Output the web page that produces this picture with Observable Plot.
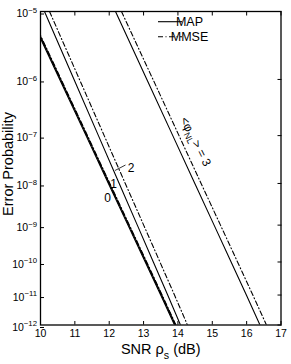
<!DOCTYPE html>
<html><head><meta charset="utf-8">
<script src="https://cdn.jsdelivr.net/npm/d3@7"></script>
<script src="https://cdn.jsdelivr.net/npm/@observablehq/plot@0.6"></script>
<style>body{margin:0;background:#fff}</style>
</head><body><div id="chart"></div>
<script>
// ---- data ----
const errorProb = [1e-5, 1e-6, 1e-7, 1e-8, 1e-9, 1e-10, 1e-11, 1e-12];
const probExponents = [-5, -6, -7, -8, -9, -10, -11, -12];
const snrTicks = [10, 11, 12, 13, 14, 15, 16, 17];
// SNR (dB) where each curve crosses each decade of error probability
const snr0Map  = [9.632, 10.559, 11.325, 11.976, 12.545, 13.048, 13.498, 13.900];
const snr0Mmse = [9.652, 10.579, 11.345, 11.996, 12.565, 13.068, 13.518, 13.920];
const snr1Map  = [9.662, 10.589, 11.355, 12.006, 12.575, 13.078, 13.528, 13.930];
const snr1Mmse = [9.675, 10.602, 11.368, 12.019, 12.588, 13.091, 13.541, 13.943];
const snr2Map  = [10.116, 10.976, 11.686, 12.291, 12.818, 13.284, 13.702, 14.074];
const snr2Mmse = [10.262, 11.134, 11.854, 12.468, 13.003, 13.476, 13.900, 14.278];
const snr3Map  = [12.183, 13.096, 13.850, 14.492, 15.053, 15.548, 15.992, 16.388];
const snr3Mmse = [12.357, 13.274, 14.031, 14.675, 15.238, 15.735, 16.180, 16.577];
const legendLabels = ["MAP", "MMSE"];
const curveLabels = ["0", "1", "2", "<φ_{NL}> = 3"];

const series = [
  {curve: "0", method: "MAP", snr: snr0Map},
  {curve: "0", method: "MMSE", snr: snr0Mmse},
  {curve: "1", method: "MAP", snr: snr1Map},
  {curve: "1", method: "MMSE", snr: snr1Mmse},
  {curve: "2", method: "MAP", snr: snr2Map},
  {curve: "2", method: "MMSE", snr: snr2Mmse},
  {curve: "3", method: "MAP", snr: snr3Map},
  {curve: "3", method: "MMSE", snr: snr3Mmse}
];
const rows = series.flatMap(s => s.snr.map((v, i) => ({key: s.curve + s.method, method: s.method, snr: v, p: errorProb[i]})));

// ---- Q-function probability scale: y = log10(Q^{-1}(p)) ----
function normInv(p) {
  const a = [-3.969683028665376e+01, 2.209460984245205e+02, -2.759285104469687e+02, 1.383577518672690e+02, -3.066479806614716e+01, 2.506628277459239e+00];
  const b = [-5.447609879822406e+01, 1.615858368580409e+02, -1.556989798598866e+02, 6.680131188771972e+01, -1.328068155288572e+01];
  const c = [-7.784894002430293e-03, -3.223964580411365e-01, -2.400758277161838e+00, -2.549732539343734e+00, 4.374664141464968e+00, 2.938163982698783e+00];
  const d = [7.784695709041462e-03, 3.224671290700398e-01, 2.445134137142996e+00, 3.754408661907416e+00];
  const plow = 0.02425, phigh = 1 - plow;
  let q, r;
  if (p < plow) {
    q = Math.sqrt(-2 * Math.log(p));
    return (((((c[0]*q+c[1])*q+c[2])*q+c[3])*q+c[4])*q+c[5]) / ((((d[0]*q+d[1])*q+d[2])*q+d[3])*q+1);
  } else if (p <= phigh) {
    q = p - 0.5; r = q*q;
    return (((((a[0]*r+a[1])*r+a[2])*r+a[3])*r+a[4])*r+a[5])*q / (((((b[0]*r+b[1])*r+b[2])*r+b[3])*r+b[4])*r+1);
  } else {
    q = Math.sqrt(-2 * Math.log(1 - p));
    return -(((((c[0]*q+c[1])*q+c[2])*q+c[3])*q+c[4])*q+c[5]) / ((((d[0]*q+d[1])*q+d[2])*q+d[3])*q+1);
  }
}
const yT = p => Math.log10(-normInv(p));
const yTicks = errorProb.map(yT);
const yFmt = v => {
  const i = yTicks.findIndex(t => Math.abs(t - v) < 1e-9);
  return i < 0 ? "" : `10^{${String(probExponents[i]).replace("-", "\u2212")}}`;
};

const dashDot = "5,2.5,1,2.5";
const mid = {textAnchor: "middle", lineAnchor: "middle"};
const chart = Plot.plot({
  width: 291, height: 364,
  marginLeft: 40, marginRight: 10.5, marginTop: 11, marginBottom: 39.5,
  style: {fontFamily: "'Liberation Sans', Arial, sans-serif", fontSize: "10.5px", color: "black", background: "white"},
  x: {domain: [10, 17]},
  y: {domain: [yT(1e-12), yT(1e-5)]},
  marks: [
    Plot.axisX(snrTicks, {anchor: "bottom", tickSize: -3.5, tickPadding: 8, label: null, tickFormat: d => String(d)}),
    Plot.axisX(snrTicks, {anchor: "top", tickSize: -3.5, label: null, tickFormat: () => ""}),
    Plot.axisY(yTicks, {anchor: "left", tickSize: -4, tickPadding: 7.5, label: null, tickFormat: yFmt, dy: 2.5}),
    Plot.axisY(yTicks, {anchor: "right", tickSize: -4, label: null, tickFormat: () => ""}),
    Plot.line(rows.filter(d => d.method === "MAP"), {x: "snr", y: d => yT(d.p), z: "key", stroke: "black", strokeWidth: 1.1, clip: true}),
    Plot.line(rows.filter(d => d.method === "MMSE"), {x: "snr", y: d => yT(d.p), z: "key", stroke: "black", strokeWidth: 1.1, strokeDasharray: dashDot, clip: true}),
    Plot.frame({stroke: "black", strokeWidth: 1.3}),
    Plot.text([curveLabels[0]], {...mid, text: d => d, frameAnchor: "top-left", dx: 67, dy: 187, fontSize: 12}),
    Plot.text([curveLabels[1]], {...mid, text: d => d, frameAnchor: "top-left", dx: 73, dy: 172.5, fontSize: 12}),
    Plot.text([curveLabels[2]], {...mid, text: d => d, frameAnchor: "top-left", dx: 90.7, dy: 156.7, fontSize: 12}),
    Plot.text([curveLabels[3]], {...mid, text: d => d, frameAnchor: "top-left", dx: 155, dy: 130, fontSize: 12, rotate: 63}),
    Plot.text(["SNR ρ_{s} (dB)"], {...mid, text: d => d, frameAnchor: "bottom", dy: 24.5, fontSize: 14.5}),
    Plot.text(["Error Probability"], {...mid, text: d => d, frameAnchor: "left", dx: -32.5, dy: -4.3, rotate: -90, fontSize: 14.5})
  ]
});

// rich text: ^{..} superscript, _{..} subscript
const NS = "http://www.w3.org/2000/svg";
function richify(el) {
  const s = el.textContent;
  const re = /([_^])\{([^}]*)\}/g;
  if (!/[_^]\{/.test(s)) return;
  const base = parseFloat(getComputedStyle(el).fontSize) || 10;
  el.textContent = "";
  let last = 0, shift = 0, m;
  const add = (txt, dy, size) => {
    const t = document.createElementNS(NS, "tspan");
    t.textContent = txt;
    if (dy) t.setAttribute("dy", dy);
    if (size) t.setAttribute("font-size", size);
    el.appendChild(t);
  };
  while ((m = re.exec(s))) {
    if (m.index > last) { add(s.slice(last, m.index), -shift, null); shift = 0; }
    const d = m[1] === "^" ? -0.42 * base : 0.3 * base;
    add(m[2], d - shift, 0.74 * base);
    shift = d;
    last = re.lastIndex;
  }
  if (last < s.length) add(s.slice(last), -shift, null);
}
document.getElementById("chart").appendChild(chart);
chart.querySelectorAll("text").forEach(richify);

// legend + leader line
const svg = d3.select(chart);
const lg = svg.append("g").attr("font-family", "'Liberation Sans', Arial, sans-serif").attr("font-size", 12.5);
legendLabels.forEach((lab, i) => {
  const y = 21.7 + i * 15;
  lg.append("line").attr("x1", 158).attr("x2", 182).attr("y1", y).attr("y2", y)
    .attr("stroke", "black").attr("stroke-width", 1.1).attr("stroke-dasharray", i ? dashDot : null);
  lg.append("text").attr("x", 189.5).attr("y", y).attr("dy", "0.35em").text(lab);
});
svg.append("line").attr("x1", 115).attr("y1", 170.5).attr("x2", 125.5).attr("y2", 165)
  .attr("stroke", "black").attr("stroke-width", 0.8);
</script>
</body></html>
